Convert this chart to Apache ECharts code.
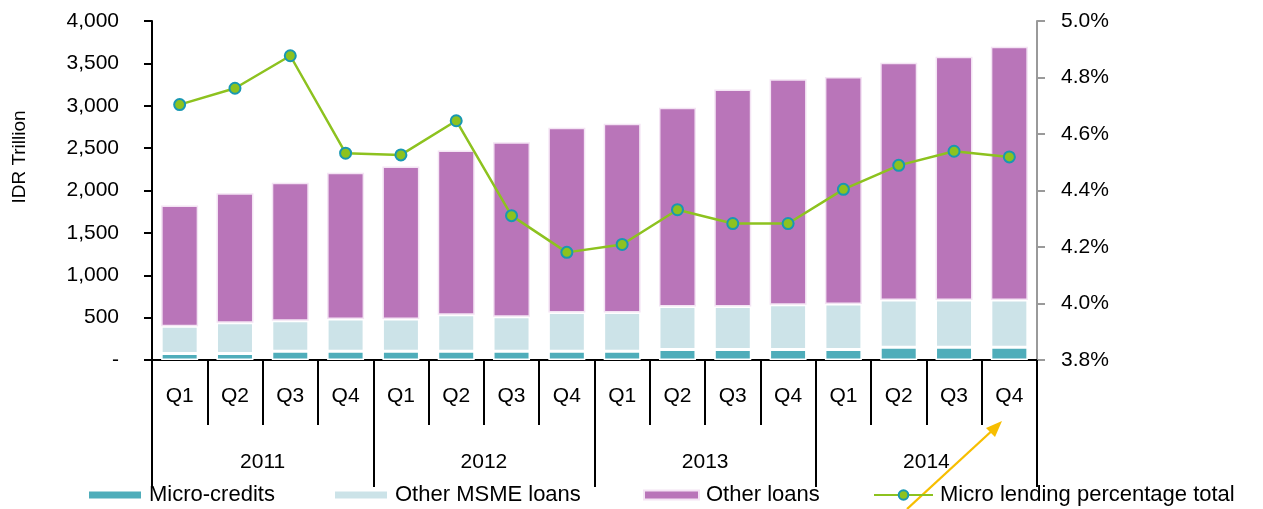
<!DOCTYPE html>
<html>
<head>
<meta charset="utf-8">
<script src="https://cdn.jsdelivr.net/npm/echarts@6/dist/echarts.min.js"></script>
<style>
html,body{margin:0;padding:0;background:#fff;}
#chart{width:1263px;height:509px;}
</style>
</head>
<body>
<div id="chart"></div>
<script>
// ---- Data ----
var quarters = ['Q1','Q2','Q3','Q4','Q1','Q2','Q3','Q4','Q1','Q2','Q3','Q4','Q1','Q2','Q3','Q4'];
var years = ['2011','2012','2013','2014'];
var microCredits = [78, 78, 102, 102, 102, 102, 102, 102, 102, 125, 125, 125, 125, 149, 149, 149];
var otherMSME = [319, 362, 362, 382, 382, 433, 409, 457, 457, 505, 505, 528, 536, 560, 560, 560];
var otherLoans = [1425, 1528, 1626, 1724, 1799, 1937, 2059, 2181, 2228, 2346, 2562, 2661, 2677, 2799, 2870, 2988];
var microPct = [4.704, 4.762, 4.877, 4.532, 4.526, 4.647, 4.311, 4.181, 4.209, 4.332, 4.283, 4.283, 4.404, 4.489, 4.539, 4.519];
var leftTicks = {min: 0, max: 4000, interval: 500};
var rightTicks = {min: 3.8, max: 5.0, interval: 0.2};

var FONT = '"Liberation Sans", Arial, sans-serif';
var chart = echarts.init(document.getElementById('chart'), null, {renderer: 'canvas'});

function fmtThousands(v) {
  if (v === 0) return '-';
  return String(v).replace(/\B(?=(\d{3})+(?!\d))/g, ',');
}

var legendBase = {
  orient: 'horizontal', top: 484, padding: 0, itemGap: 0,
  itemWidth: 54, itemHeight: 9,
  textStyle: {fontFamily: FONT, fontSize: 22, color: '#000', padding: [0,0,0,2]}
};

var option = {
  animation: false,
  backgroundColor: '#fff',
  grid: {left: 152, right: 226, top: 21, bottom: 149, containLabel: false},
  legend: [
    Object.assign({}, legendBase, {left: 87, data: [{name: 'Micro-credits', icon: 'rect'}]}),
    Object.assign({}, legendBase, {left: 333, data: [{name: 'Other MSME loans', icon: 'rect'}]}),
    Object.assign({}, legendBase, {left: 643, itemWidth: 55, data: [{name: 'Other loans', icon: 'rect'}]}),
    Object.assign({}, legendBase, {left: 873, itemWidth: 59, itemHeight: 12, data: [{name: 'Micro lending percentage total'}]})
  ],
  xAxis: [
    {
      type: 'category', data: quarters, position: 'bottom', boundaryGap: true,
      axisLine: {show: true, lineStyle: {color: '#000', width: 2}},
      axisTick: {show: true, length: 65, interval: 0, lineStyle: {color: '#000', width: 2}},
      axisLabel: {interval: 0, margin: 26, fontFamily: FONT, fontSize: 21, color: '#000'},
      splitLine: {show: false}
    },
    {
      type: 'category', data: years, position: 'bottom', boundaryGap: true,
      axisLine: {show: false},
      axisTick: {show: true, length: 127, interval: 0, lineStyle: {color: '#000', width: 2}},
      axisLabel: {interval: 0, margin: 92, fontFamily: FONT, fontSize: 21, color: '#000'},
      splitLine: {show: false}
    }
  ],
  yAxis: [
    {
      type: 'value', position: 'left', min: leftTicks.min, max: leftTicks.max, interval: leftTicks.interval,
      axisLine: {show: true, lineStyle: {color: '#000', width: 2}},
      axisTick: {show: true, length: 8, lineStyle: {color: '#000', width: 2}},
      axisLabel: {margin: 33, fontFamily: FONT, fontSize: 21, color: '#000', formatter: fmtThousands},
      splitLine: {show: false}
    },
    {
      type: 'value', position: 'right', min: rightTicks.min, max: rightTicks.max, interval: rightTicks.interval,
      axisLine: {show: true, lineStyle: {color: '#9a9a9a', width: 2}},
      axisTick: {show: true, length: 8, lineStyle: {color: '#9a9a9a', width: 2}},
      axisLabel: {margin: 24, fontFamily: FONT, fontSize: 21, color: '#000', formatter: function (v) { return v.toFixed(1) + '%'; }},
      splitLine: {show: false}
    }
  ],
  series: [
    {
      name: 'Micro-credits', type: 'bar', stack: 'total', data: microCredits, barWidth: 37,
      itemStyle: {color: '#4FADBA', borderColor: '#fff', borderWidth: 1.5}
    },
    {
      name: 'Other MSME loans', type: 'bar', stack: 'total', data: otherMSME, barWidth: 37,
      itemStyle: {color: '#CCE3E8', borderColor: '#fff', borderWidth: 1.5}
    },
    {
      name: 'Other loans', type: 'bar', stack: 'total', data: otherLoans, barWidth: 37,
      itemStyle: {color: '#B975B9', borderColor: '#f4e4f4', borderWidth: 1.5}
    },
    {
      name: 'Micro lending percentage total', type: 'line', yAxisIndex: 1, data: microPct,
      symbol: 'circle', symbolSize: 11,
      lineStyle: {color: '#8DC21F', width: 2.5},
      itemStyle: {color: '#8DC21F', borderColor: '#1898B2', borderWidth: 2},
      z: 5
    }
  ],
  graphic: [
    {
      type: 'text', x: 20, y: 157, rotation: Math.PI / 2,
      style: {text: 'IDR Trillion', fontFamily: FONT, fontSize: 19, fill: '#000', align: 'center', verticalAlign: 'middle'}
    },
    {
      type: 'line', shape: {x1: 907, y1: 509, x2: 996, y2: 427},
      style: {stroke: '#F7BE00', lineWidth: 2.3}
    },
    {
      type: 'polygon', shape: {points: [[1002, 421], [986, 428], [995, 437]]},
      style: {fill: '#F7BE00'}
    }
  ]
};
chart.setOption(option);
</script>
</body>
</html>
